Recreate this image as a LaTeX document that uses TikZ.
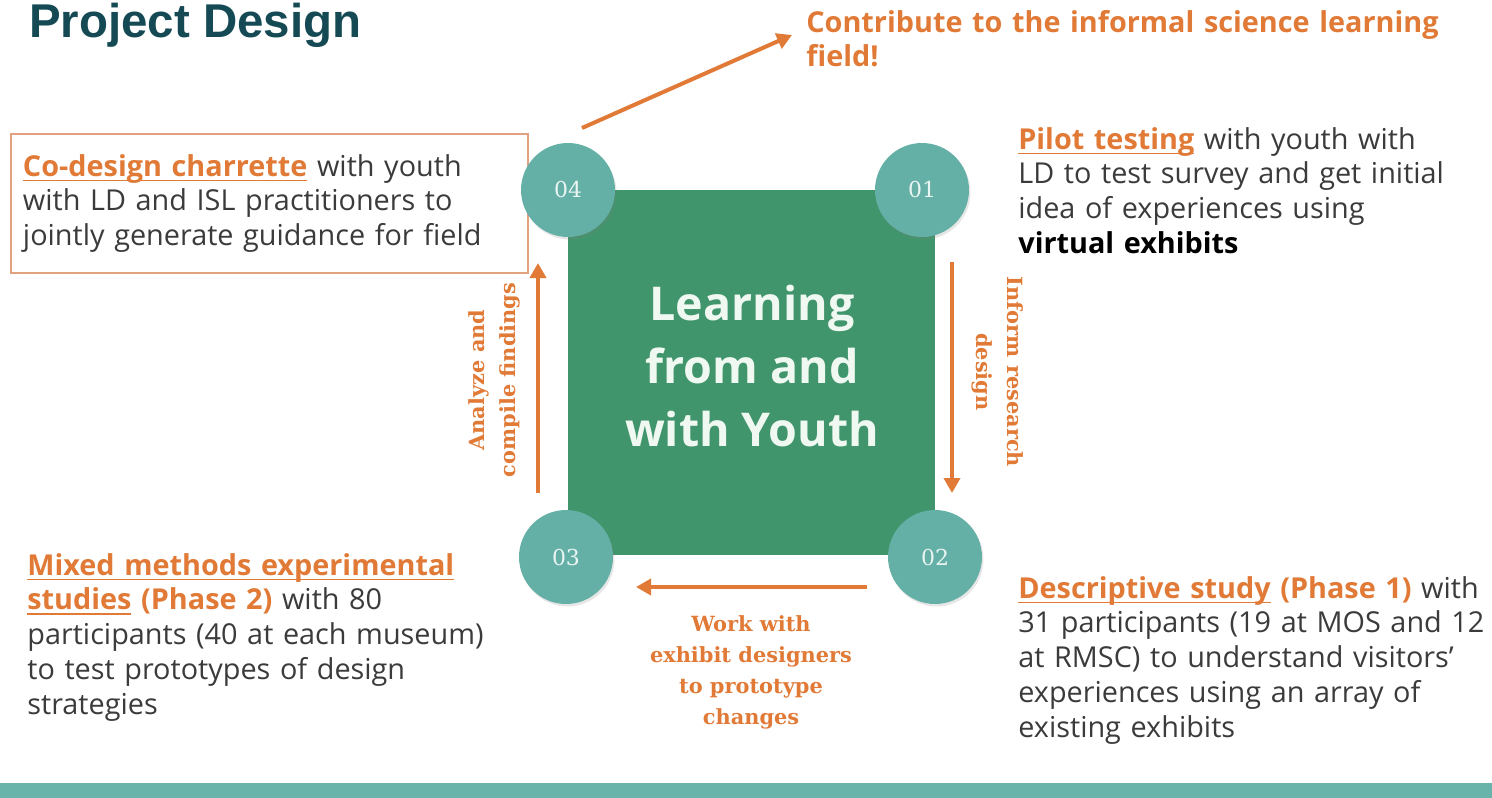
\documentclass[tikz,border=0pt]{standalone}
\usepackage{fontspec}
\setmainfont{Open Sans}
\newfontfamily\labelfont{DejaVu Serif}
\newfontfamily\headfont{Liberation Sans}
\usetikzlibrary{arrows.meta,shadows}
\definecolor{inkdark}{HTML}{3B3B3B}
\definecolor{titleteal}{HTML}{154A55}
\definecolor{accent}{HTML}{E07A36}
\definecolor{stagefill}{HTML}{64B0A6}
\definecolor{stagetext}{HTML}{EAF5F3}
\definecolor{corefill}{HTML}{41956C}
\definecolor{coretext}{HTML}{F0F8F2}
\definecolor{boxline}{HTML}{E3A27F}
\definecolor{bandfill}{HTML}{68B4AA}
\newsavebox\ulbox
\newcommand{\ulin}[1]{\leavevmode\sbox\ulbox{#1}\rlap{\rule[-3pt]{\wd\ulbox}{1pt}}\usebox\ulbox}
\begin{document}
\begin{tikzpicture}[x=0.02cm,y=-0.02cm,
    body/.style={anchor=base west,inner sep=0pt,text width=12cm,align=left,
      text=inkdark,font=\fontsize{16.4}{19.8}\selectfont},
    core/.style={fill=corefill,minimum width=7.34cm,minimum height=7.3cm},
    stage/.style={circle,fill=stagefill,minimum size=1.88cm,inner sep=0pt,
      text=stagetext,font=\labelfont\fontsize{12.5}{14}\selectfont,
      drop shadow={opacity=0.2,shadow xshift=0.03cm,shadow yshift=-0.05cm}},
    steplabel/.style={text=accent,align=center,inner sep=0pt,
      font=\labelfont\bfseries\fontsize{11.9}{17.6}\selectfont},
    flow/.style={draw=accent,line width=0.08cm,-{Triangle[length=0.3cm,width=0.32cm]}}]
      \useasboundingbox (0,0) rectangle (1492,798);
      \fill[bandfill] (0,783) rectangle (1492,798);
      \node[anchor=base west,inner sep=0pt,text=titleteal,
        font=\headfont\bfseries\fontsize{27}{30}\selectfont] (title) at (29,37) {Project Design};
      \node[body,text width=14cm,text=accent,font=\bfseries\fontsize{16.4}{19.4}\selectfont] (contrib) at (806,32)
        {Contribute to the informal science learning\\field!};
      \node[body,draw=boxline,line width=0.04cm,anchor=north west,text width=9.86cm,
        inner xsep=0.24cm,inner ysep=0pt,minimum height=2.78cm] (codesign) at (10,133)
        {{\color{accent}\bfseries\ulin{Co-design charrette}} with youth\\with LD and ISL practitioners to\\jointly generate guidance for field};
      \node[body] (pilot) at (1018,149)
        {{\color{accent}\bfseries\ulin{Pilot testing}} with youth with\\LD to test survey and get initial\\idea of experiences using\\{\color{black}\bfseries virtual exhibits}};
      \node[body] (descr) at (1018,598)
        {{\color{accent}\bfseries\ulin{Descriptive study} (Phase 1)} with\\31 participants (19 at MOS and 12\\at RMSC) to understand visitors'\\experiences using an array of\\existing exhibits};
      \node[body] (mixed) at (27,575)
        {{\color{accent}\bfseries\ulin{Mixed methods experimental}\\\ulin{studies} (Phase 2)} with 80\\participants (40 at each museum)\\to test prototypes of design\\strategies};
      \node[core] (core) at (751.5,372.5) {};
      \node[text=coretext,align=center,font=\bfseries\fontsize{26.5}{35.7}\selectfont] (motto) at (752,366)
        {Learning\\from and\\with Youth};
      \draw
        (568,190) node[stage] (s04) {04}
        (922,190) node[stage] (s01) {01}
        (935,557) node[stage] (s02) {02}
        (566,557) node[stage] (s03) {03};
      \node[steplabel,rotate=-90] (inform) at (998,372) {Inform research\\design};
      \node[steplabel,rotate=90] (analyze) at (494,380) {Analyze and\\compile findings};
      \node[steplabel] (work) at (751,672) {Work with\\exhibit designers\\to prototype\\changes};
      \coordinate (d1) at (952,262);
      \coordinate (d2) at (952,493);
      \coordinate (w1) at (867,587);
      \coordinate (w2) at (636,587);
      \coordinate (u1) at (538,493);
      \coordinate (u2) at (538,263);
      \coordinate (o1) at (582,128);
      \coordinate (o2) at (792,35);
      \begin{scope}[flow]
        \draw (d1) to (d2);
        \draw (w1) to (w2);
        \draw (u1) to (u2);
        \draw (o1) to (o2);
      \end{scope}
    \end{tikzpicture}
\end{document}
